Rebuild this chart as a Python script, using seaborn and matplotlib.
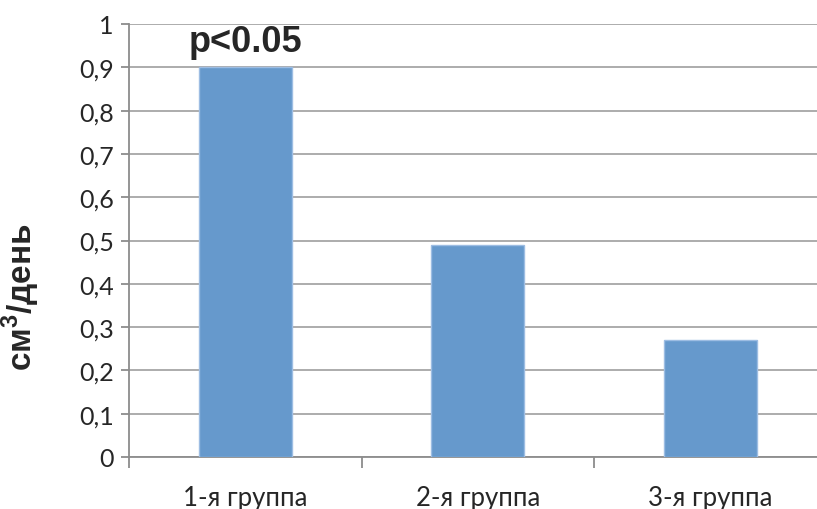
import matplotlib
matplotlib.use("Agg")
import matplotlib.pyplot as plt
import seaborn as sns
from matplotlib.ticker import FuncFormatter, FixedLocator

# Данные
groups = ["1-я группа", "2-я группа", "3-я группа"]
values = [0.90, 0.49, 0.27]
y_ticks = [0, 0.1, 0.2, 0.3, 0.4, 0.5, 0.6, 0.7, 0.8, 0.9, 1.0]
note = "p<0.05"
y_label = r"см$^{\mathbf{3}}$/день"

sns.set_style("white")
plt.rcParams["font.family"] = ["Lato", "DejaVu Sans"]
plt.rcParams["mathtext.fontset"] = "custom"
plt.rcParams["mathtext.bf"] = "Liberation Sans:bold"
plt.rcParams["mathtext.rm"] = "Liberation Sans"

fig = plt.figure(figsize=(8.17, 5.10), dpi=100)
ax = fig.add_axes([129 / 817, 52 / 510, 697.5 / 817, 433 / 510])

sns.barplot(x=groups, y=values, color="#6699CC", width=0.4, saturation=1,
            edgecolor="#9DBDE3", linewidth=1, ax=ax, zorder=3)

ax.set_xlim(-0.5, 2.5)
ax.set_ylim(0, 1)
ax.yaxis.set_major_locator(FixedLocator(y_ticks))
ax.yaxis.set_major_formatter(FuncFormatter(
    lambda v, p: "0" if v == 0 else ("1" if v == 1 else f"{v:.1f}".replace(".", ","))))
ax.grid(axis="y", color="#A6A6A6", linewidth=1.3, zorder=0)
ax.grid(axis="x", visible=False)

for s in ["top", "right"]:
    ax.spines[s].set_visible(False)
for s in ["left", "bottom"]:
    ax.spines[s].set_color("#8C8C8C")
    ax.spines[s].set_linewidth(1.3)

ax.tick_params(axis="y", which="major", length=6, width=1.3, color="#8C8C8C",
               labelsize=18, pad=5, left=True)
ax.xaxis.set_minor_locator(FixedLocator([-0.5, 0.5, 1.5, 2.5]))
ax.tick_params(axis="x", which="minor", length=8, width=1.3, color="#8C8C8C", bottom=True)
ax.tick_params(axis="x", which="major", length=0, labelsize=18.5, pad=20)

ax.set_xlabel("")
ax.set_ylabel(y_label, fontsize=24, fontweight="bold",
              family=["Liberation Sans", "DejaVu Sans"])
ax.yaxis.set_label_coords(-0.125, 0.371)

ax.text(0, values[0] + 0.02, note, ha="center", va="bottom", fontsize=26,
        fontweight="bold", family=["Liberation Sans", "DejaVu Sans"])

fig.savefig("out.png", dpi=100)
